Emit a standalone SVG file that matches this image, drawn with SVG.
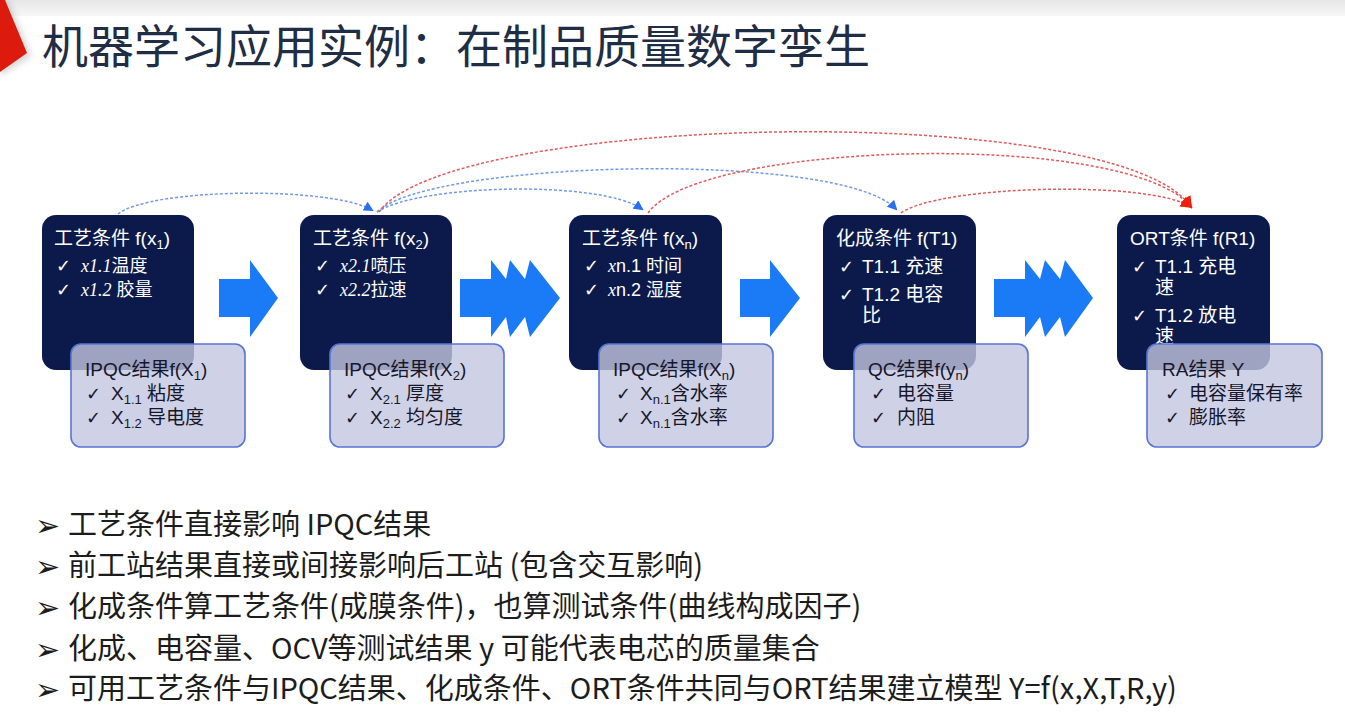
<svg xmlns="http://www.w3.org/2000/svg" width="1345" height="728" viewBox="0 0 1345 728">
<defs>
<style>
.dk{fill:#0c1a4b;}
.lt{fill:#c3c6e0;fill-opacity:0.8;stroke:#5874d6;stroke-width:1.6;}
.wt{font-family:"Liberation Sans","Noto Sans CJK SC",sans-serif;font-size:18px;fill:#ffffff;}
.bt{font-family:"Liberation Sans","Noto Sans CJK SC",sans-serif;font-size:19px;fill:#15172a;}
.hd{font-size:19px;}
.ck{font-family:"DejaVu Sans",sans-serif;font-size:18px;}
.sc{font-family:"Liberation Serif",serif;font-style:italic;}
.arr{fill:#1b7bf7;}
.cb{fill:none;stroke:#6f9ae8;stroke-width:1.5;stroke-dasharray:3 2;}
.cr{fill:none;stroke:#e05a5a;stroke-width:1.5;stroke-dasharray:3 2;}
.bl{font-family:"Noto Sans CJK SC",sans-serif;font-size:29px;fill:#1c1c1c;}
.bu{font-family:"DejaVu Sans",sans-serif;font-size:30px;fill:#1c1c1c;}
</style>
<marker id="mb" markerWidth="10" markerHeight="10" refX="8" refY="5" orient="auto" markerUnits="userSpaceOnUse">
<path d="M0,0 L10,5 L0,10 Z" fill="#2a6ff0"/>
</marker>
<marker id="mr" markerWidth="12" markerHeight="12" refX="10" refY="6" orient="auto" markerUnits="userSpaceOnUse">
<path d="M0,0 L12,6 L0,12 Z" fill="#f01e10"/>
</marker>
<linearGradient id="top" x1="0" y1="0" x2="0" y2="1">
<stop offset="0" stop-color="#e6e6e6"/>
<stop offset="1" stop-color="#f7f7f7"/>
</linearGradient>
<filter id="sh" x="-50%" y="-50%" width="200%" height="200%">
<feGaussianBlur stdDeviation="3"/>
</filter>
</defs>
<rect width="1345" height="728" fill="#ffffff"/>
<rect width="1345" height="16" fill="url(#top)"/>
<polygon points="0,0 8,0 31,56 0,76" fill="#999" opacity="0.4" filter="url(#sh)"/>
<polygon points="0,0 5,0 27,53 0,72" fill="#dd1a0e"/>
<text x="42" y="63" font-family="Noto Sans CJK SC,sans-serif" font-size="46" fill="#1f2d45">机器学习应用实例：在制品质量数字孪生</text>

<g id="blockarrows">
<polygon class="arr" points="219,279 250,279 250,260 278,298 250,337 250,317 219,317"/>
<polygon class="arr" points="460,279 491,279 491,260 506,279 510,260 525,279 530,260 560,298 530,337 525,317 510,337 506,317 491,337 491,317 460,317"/>
<polygon class="arr" points="740,279 770,279 770,260 800,298 770,337 770,317 740,317"/>
<polygon class="arr" points="994,279 1025,279 1025,260 1040,279 1045,260 1060,279 1065,260 1093,298 1065,337 1060,317 1045,337 1040,317 1025,337 1025,317 994,317"/>
</g>

<g id="connectors">
<path class="cb" d="M118,214 C150,188 330,186 372,210" marker-end="url(#mb)"/>
<path class="cb" d="M377,212 C420,184 600,180 642,209" marker-end="url(#mb)"/>
<path class="cb" d="M377,212 C430,160 840,150 896,209" marker-end="url(#mb)"/>
<path class="cr" d="M379,212 C450,112 1120,100 1191,207" marker-end="url(#mr)"/>
<path class="cr" d="M648,213 C700,140 1130,130 1191,207" marker-end="url(#mr)"/>
<path class="cr" d="M901,213 C940,185 1150,180 1191,207" marker-end="url(#mr)"/>
</g>

<g id="node1">
<rect class="dk" x="42" y="215" width="152" height="155" rx="14"/>
<text class="wt hd" x="54" y="245">工艺条件 f(x<tspan font-size="13" dy="4">1</tspan><tspan dy="-4">)</tspan></text>
<text class="wt" x="56" y="272"><tspan class="ck">✓</tspan><tspan class="sc" x="81">x1.1</tspan>温度</text>
<text class="wt" x="56" y="296"><tspan class="ck">✓</tspan><tspan class="sc" x="81">x1.2</tspan> 胶量</text>
<rect class="lt" x="71" y="344" width="174" height="103" rx="10"/>
<text class="bt" x="85" y="376">IPQC结果f(X<tspan font-size="13" dy="4">1</tspan><tspan dy="-4">)</tspan></text>
<text class="bt" x="86" y="400"><tspan class="ck">✓</tspan><tspan x="111">X</tspan><tspan font-size="13" dy="4">1.1</tspan><tspan dy="-4"> 粘度</tspan></text>
<text class="bt" x="86" y="424"><tspan class="ck">✓</tspan><tspan x="111">X</tspan><tspan font-size="13" dy="4">1.2</tspan><tspan dy="-4"> 导电度</tspan></text>
</g>

<g id="node2">
<rect class="dk" x="300" y="215" width="152" height="155" rx="14"/>
<text class="wt hd" x="313" y="245">工艺条件 f(x<tspan font-size="13" dy="4">2</tspan><tspan dy="-4">)</tspan></text>
<text class="wt" x="315" y="272"><tspan class="ck">✓</tspan><tspan class="sc" x="340">x2.1</tspan>喷压</text>
<text class="wt" x="315" y="296"><tspan class="ck">✓</tspan><tspan class="sc" x="340">x2.2</tspan>拉速</text>
<rect class="lt" x="330" y="344" width="174" height="103" rx="10"/>
<text class="bt" x="344" y="376">IPQC结果f(X<tspan font-size="13" dy="4">2</tspan><tspan dy="-4">)</tspan></text>
<text class="bt" x="345" y="400"><tspan class="ck">✓</tspan><tspan x="370">X</tspan><tspan font-size="13" dy="4">2.1</tspan><tspan dy="-4"> 厚度</tspan></text>
<text class="bt" x="345" y="424"><tspan class="ck">✓</tspan><tspan x="370">X</tspan><tspan font-size="13" dy="4">2.2</tspan><tspan dy="-4"> 均匀度</tspan></text>
</g>

<g id="node3">
<rect class="dk" x="569" y="215" width="153" height="155" rx="14"/>
<text class="wt hd" x="582" y="245">工艺条件 f(x<tspan font-size="13" dy="4">n</tspan><tspan dy="-4">)</tspan></text>
<text class="wt" x="584" y="272"><tspan class="ck">✓</tspan><tspan class="sc" x="608">x</tspan>n.1 时间</text>
<text class="wt" x="584" y="296"><tspan class="ck">✓</tspan><tspan class="sc" x="608">x</tspan>n.2 湿度</text>
<rect class="lt" x="599" y="344" width="174" height="103" rx="10"/>
<text class="bt" x="613" y="376">IPQC结果f(X<tspan font-size="13" dy="4">n</tspan><tspan dy="-4">)</tspan></text>
<text class="bt" x="616" y="400"><tspan class="ck">✓</tspan><tspan x="640">X</tspan><tspan font-size="13" dy="4">n.1</tspan><tspan dy="-4">含水率</tspan></text>
<text class="bt" x="616" y="424"><tspan class="ck">✓</tspan><tspan x="640">X</tspan><tspan font-size="13" dy="4">n.1</tspan><tspan dy="-4">含水率</tspan></text>
</g>

<g id="node4">
<rect class="dk" x="823" y="215" width="153" height="155" rx="14"/>
<text class="wt hd" x="836" y="245">化成条件 f(T1)</text>
<text class="wt hd" x="839" y="273"><tspan class="ck">✓</tspan><tspan x="862">T1.1 充速</tspan></text>
<text class="wt hd" x="839" y="301"><tspan class="ck">✓</tspan><tspan x="862">T1.2 电容</tspan></text>
<text class="wt hd" x="862" y="322">比</text>
<rect class="lt" x="854" y="344" width="174" height="103" rx="10"/>
<text class="bt" x="868" y="376">QC结果f(y<tspan font-size="13" dy="4">n</tspan><tspan dy="-4">)</tspan></text>
<text class="bt" x="871" y="400"><tspan class="ck">✓</tspan><tspan x="897">电容量</tspan></text>
<text class="bt" x="871" y="424"><tspan class="ck">✓</tspan><tspan x="897">内阻</tspan></text>
</g>

<g id="node5">
<rect class="dk" x="1117" y="215" width="153" height="155" rx="14"/>
<text class="wt hd" x="1130" y="245">ORT条件 f(R1)</text>
<text class="wt hd" x="1132" y="273"><tspan class="ck">✓</tspan><tspan x="1155">T1.1 充电</tspan></text>
<text class="wt hd" x="1155" y="294">速</text>
<text class="wt hd" x="1132" y="322"><tspan class="ck">✓</tspan><tspan x="1155">T1.2 放电</tspan></text>
<text class="wt hd" x="1155" y="343">速</text>
<rect class="lt" x="1147" y="344" width="175" height="103" rx="10"/>
<text class="bt" x="1162" y="376">RA结果 Y</text>
<text class="bt" x="1165" y="400"><tspan class="ck">✓</tspan><tspan x="1189">电容量保有率</tspan></text>
<text class="bt" x="1165" y="424"><tspan class="ck">✓</tspan><tspan x="1189">膨胀率</tspan></text>
</g>

<g id="bullets">
<text class="bu" x="35" y="536">➢</text>
<text class="bl" x="68" y="535">工艺条件直接影响 IPQC结果</text>
<text class="bu" x="35" y="577">➢</text>
<text class="bl" x="68" y="576">前工站结果直接或间接影响后工站 (包含交互影响)</text>
<text class="bu" x="35" y="618">➢</text>
<text class="bl" x="68" y="617">化成条件算工艺条件(成膜条件)，也算测试条件(曲线构成因子)</text>
<text class="bu" x="35" y="660">➢</text>
<text class="bl" x="68" y="659">化成、电容量、OCV等测试结果 y 可能代表电芯的质量集合</text>
<text class="bu" x="35" y="700">➢</text>
<text class="bl" x="68" y="699">可用工艺条件与IPQC结果、化成条件、ORT条件共同与ORT结果建立模型 Y=f(x,X,T,R,y)</text>
</g>
</svg>
